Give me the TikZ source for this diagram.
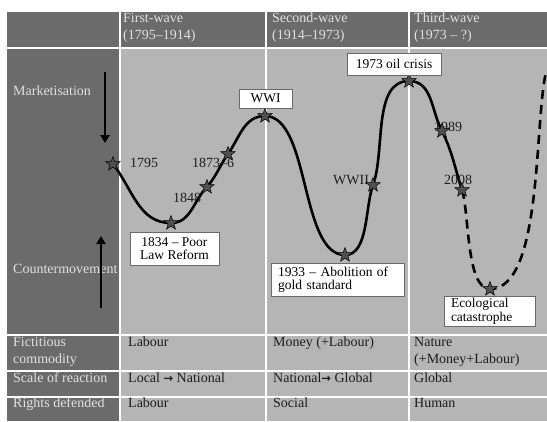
\documentclass[tikz,border=0pt]{standalone}
\usepackage{fontspec}
\setmainfont{Liberation Serif}
\newfontfamily\arrowfont{DejaVu Sans}
\usetikzlibrary{shapes.geometric,arrows.meta}
\definecolor{darkbg}{HTML}{6B6B6B}
\definecolor{lightbg}{HTML}{B5B5B5}
\definecolor{hdtext}{HTML}{E0E0E0}
\definecolor{bodytext}{HTML}{1E1E1E}
\definecolor{stargray}{HTML}{505050}
\definecolor{boxline}{HTML}{6A6A6A}
\newcommand{\fsmain}{\fontsize{14}{17}\selectfont}
\newcommand{\fsbox}{\fontsize{13.5}{13.5}\selectfont}
\newcommand{\rarr}{{\arrowfont\bfseries\fontsize{11.5}{11.5}\selectfont →}}
\begin{document}
\begin{tikzpicture}[x=1pt,y=-1pt,
  hd/.style={anchor=base west,inner sep=0pt,text=hdtext,font=\fsmain},
  side/.style={anchor=base west,inner sep=0pt,text=hdtext,font=\fsmain},
  cell/.style={anchor=base west,inner sep=0pt,text=bodytext,font=\fsmain},
  yr/.style={anchor=base west,inner sep=0pt,text=bodytext,font=\fsmain},
  lbl/.style={draw=boxline,fill=white,line width=0.8pt,text=black,font=\fsbox,inner sep=0pt},
  evt/.style={star,star points=5,star point ratio=2.4,minimum size=15pt,inner sep=0pt,fill=stargray,draw=black,line width=0.5pt},
  wave/.style={line width=2.6pt,black},
  gridline/.style={white,line width=1.3pt},
  bigarrow/.style={line width=2.6pt,-{Triangle[length=8pt,width=9pt]}}]

\useasboundingbox (0,0) rectangle (547,421);
\fill[white] (0,0) rectangle (547,421);
\fill[darkbg] (7,12) rectangle (547,421);
\fill[lightbg] (121,49) rectangle (547,421);

% grid lines
\draw[white,line width=2pt] (7,48) -- (547,48);
\draw[white,line width=2pt] (120,12) -- (120,421);
\draw[gridline] (266,12) -- (266,421);
\draw[gridline] (409,12) -- (409,421);
\draw[gridline] (7,335) -- (547,335);
\draw[gridline] (7,371) -- (547,371);
\draw[gridline] (7,397) -- (547,397);

% header
\node[hd] (h1a) at (123,22) {First-wave};
\node[hd] (h1b) at (123,39) {(1795–1914)};
\node[hd] (h2a) at (272,22) {Second-wave};
\node[hd] (h2b) at (272,39) {(1914–1973)};
\node[hd] (h3a) at (414,22) {Third-wave};
\node[hd] (h3b) at (414,39) {(1973 – ?)};

% side column
\node[side] (market) at (13,95) {Marketisation};
\node[side] (counter) at (13,273) {Countermovement};
\node[side] (fict) at (13,346) {Fictitious};
\node[side] (fict2) at (13,363) {commodity};
\node[side] (scale) at (13,382) {Scale of reaction};
\node[side] (rights) at (13,407) {Rights defended};

\coordinate (mTop) at (105,72);
\coordinate (mBot) at (105,143);
\draw[bigarrow] (mTop) -- (mBot);
\coordinate (cBot) at (101,308);
\coordinate (cTop) at (101,236);
\draw[bigarrow] (cBot) -- (cTop);

% table cells
\node[cell] (c11) at (128,346) {Labour};
\node[cell] (c21) at (273,346) {Money (+Labour)};
\node[cell] (c31) at (414,346) {Nature};
\node[cell] (c31b) at (414,363) {(+Money+Labour)};
\node[cell] (c12) at (128,382) {Local \rarr{} National};
\node[cell] (c22) at (273,382) {National\rarr{} Global};
\node[cell] (c32) at (414,382) {Global};
\node[cell] (c13) at (128,407) {Labour};
\node[cell] (c23) at (273,407) {Social};
\node[cell] (c33) at (414,407) {Human};

% curve points
\coordinate (p1795) at (113,164);
\coordinate (p1834) at (171,223);
\coordinate (p1848) at (207,187);
\coordinate (p1873) at (228,154);
\coordinate (pWWI) at (265,116);
\coordinate (p1933) at (345,255);
\coordinate (pWWII) at (373,185);
\coordinate (p1973) at (409,81);
\coordinate (p1989) at (442,131);
\coordinate (p2008) at (462,190);
\coordinate (pEco) at (490,289);
\coordinate (pEnd) at (546,72);

\draw[wave] (p1795) to[out=-52,in=180] (p1834)
  to[out=0,in=-135] (p1848)
  to[out=50,in=-125] (p1873)
  to[out=55,in=180] (pWWI)
  to[out=0,in=180,looseness=0.72] (p1933)
  to[out=0,in=-110,looseness=0.8] (pWWII)
  to[out=70,in=180,looseness=0.85] (p1973)
  to[out=0,in=118] (p1989)
  to[out=-64,in=108] (p2008);
\draw[wave,dash pattern=on 9pt off 6pt] (p2008) to[out=-72,in=180,looseness=0.6] (pEco)
  to[out=0,in=-103,looseness=0.6] (pEnd);

% year labels
\node[yr] (t1795) at (130,167) {1795};
\node[yr] (t1848) at (173,202) {1848};
\node[yr] (t1873) at (192,167) {1873–6};
\node[yr] (tWWII) at (333,184) {WWII};
\node[yr] (t1989) at (434,131) {1989};
\node[yr] (t2008) at (444,184) {2008};

% stars
\foreach \p in {1795,1834,1848,1873,WWI,1933,WWII,1973,1989,2008,Eco}
  \node[evt] (s\p) at (p\p) {};

% event boxes
\node[lbl,minimum width=89pt,minimum height=33pt,align=center] (b1834) at (174.5,248.5) {1834 – Poor\\Law Reform};
\node[lbl,minimum width=53pt,minimum height=19pt] (bWWI) at (265.5,98.5) {WWI};
\node[lbl,minimum width=94pt,minimum height=22pt] (b1973) at (394,64) {1973 oil crisis};
\node[lbl,minimum width=133pt,minimum height=33pt,align=left,text width=119pt] (b1933) at (337.5,279.5) {1933 – Abolition of\\gold standard};
\node[lbl,minimum width=91pt,minimum height=30pt,align=left,text width=77pt] (bEco) at (489.5,311) {Ecological\\catastrophe};
\end{tikzpicture}
\end{document}
